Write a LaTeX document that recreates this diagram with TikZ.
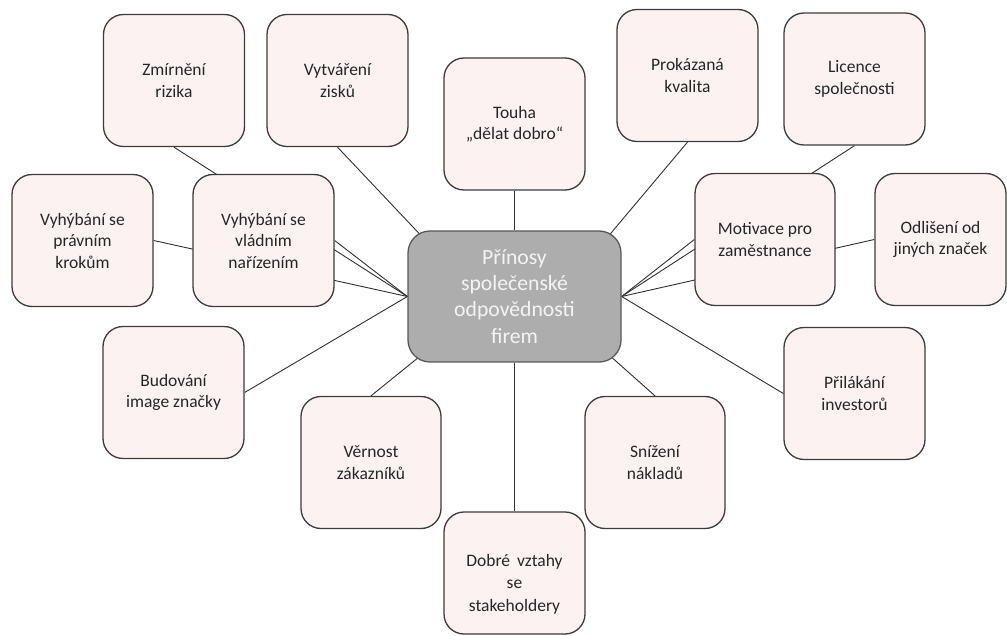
\documentclass[tikz,border=0pt]{standalone}
\usepackage{fontspec}
\setmainfont{Carlito}
\usetikzlibrary{backgrounds,calc}
\definecolor{pinkfill}{HTML}{FDF2F2}
\definecolor{boxborder}{HTML}{3C3C3C}
\definecolor{textcol}{HTML}{262626}
\definecolor{hubfill}{HTML}{ADADAD}
\definecolor{hubborder}{HTML}{595959}
\definecolor{hubtext}{HTML}{F4F4F4}
\definecolor{linecol}{HTML}{303030}
\begin{document}
\begin{tikzpicture}[x=1pt,y=-1pt,
  pinkbox/.style={draw=boxborder, fill=pinkfill, line width=1.3pt, rounded corners=20pt,
    minimum width=141pt, minimum height=132pt, inner sep=0pt, align=center, text=textcol,
    font=\fontsize{17.5}{21.5}\selectfont},
  hubbox/.style={draw=hubborder, fill=hubfill, line width=1.3pt, rounded corners=22pt,
    minimum width=213pt, minimum height=131pt, inner sep=0pt, align=center, text=hubtext,
    font=\fontsize{21.7}{26.3}\selectfont},
  plaintext/.style={inner sep=0pt, align=center, text=textcol, font=\fontsize{17.5}{22.5}\selectfont},
  conn/.style={draw=linecol, line width=0.9pt}]
\useasboundingbox (0,0) rectangle (1007,636);

\node[hubbox] (hub) at (514.5,296.5) {Přínosy\\společenské\\odpovědnosti\\firem};

\node[pinkbox] (zmir)  at (174,80.5)   {Zmírnění\\rizika};
\node[pinkbox] (vytv)  at (337.5,80.5) {Vytváření\\zisků};
\node[pinkbox] (touha) at (514.5,124)  {Touha\\„dělat dobro“};
\node[pinkbox] (prok)  at (687.5,75.5) {Prokázaná\\kvalita};
\node[pinkbox] (lic)   at (854.5,79)   {Licence\\společnosti};
\node[pinkbox] (prav)  at (82.5,240.5) {Vyhýbání se\\právním\\krokům};
\node[pinkbox] (vlad)  at (263.5,240.5) {Vyhýbání se\\vládním\\nařízením};
\node[pinkbox, minimum width=140pt] (motiv) at (765,239.5) {Motivace pro\\zaměstnance};
\node[pinkbox, minimum width=131pt] (odl)   at (940.5,239.5) {Odlišení od\\jiných značek};
\node[pinkbox] (bud)   at (173.5,392.5) {Budování\\image značky};
\node[pinkbox, minimum width=140pt] (vern)  at (371,462.5) {Věrnost\\zákazníků};
\node[pinkbox, minimum width=140pt] (sniz)  at (655,462.5) {Snížení\\nákladů};
\node[pinkbox] (pril)  at (854.5,393.5) {Přilákání\\investorů};
\node[pinkbox, minimum height=122pt] (dobre) at (514.5,573) {};
\node[plaintext] (dobretxt) at ($(dobre.center)+(0,11)$) {Dobré\hspace{7pt}vztahy\\se\\stakeholdery};

\begin{pgfonlayer}{background}
  \draw[conn] (zmir.south) -- (hub.west);
  \draw[conn] (prav.east) -- (hub.west);
  \draw[conn] (vlad.east) -- (hub.west);
  \draw[conn] (bud.east) -- (hub.west);
  \draw[conn] (vytv.south) -- ($(hub.north west)+(22,14)$);
  \draw[conn] (vern.north) -- ($(hub.south west)+(22,-14)$);
  \draw[conn] (touha.south) -- (hub.north);
  \draw[conn] (hub.south) -- (dobre.north);
  \draw[conn] (prok.south) -- ($(hub.north east)+(-21,15)$);
  \draw[conn] (sniz.north) -- ($(hub.south east)+(-22,-16)$);
  \draw[conn] (lic.south) -- (hub.east);
  \draw[conn] (motiv.west) -- (hub.east);
  \draw[conn] (odl.west) -- (hub.east);
  \draw[conn] (pril.west) -- (hub.east);
\end{pgfonlayer}
\end{tikzpicture}
\end{document}
